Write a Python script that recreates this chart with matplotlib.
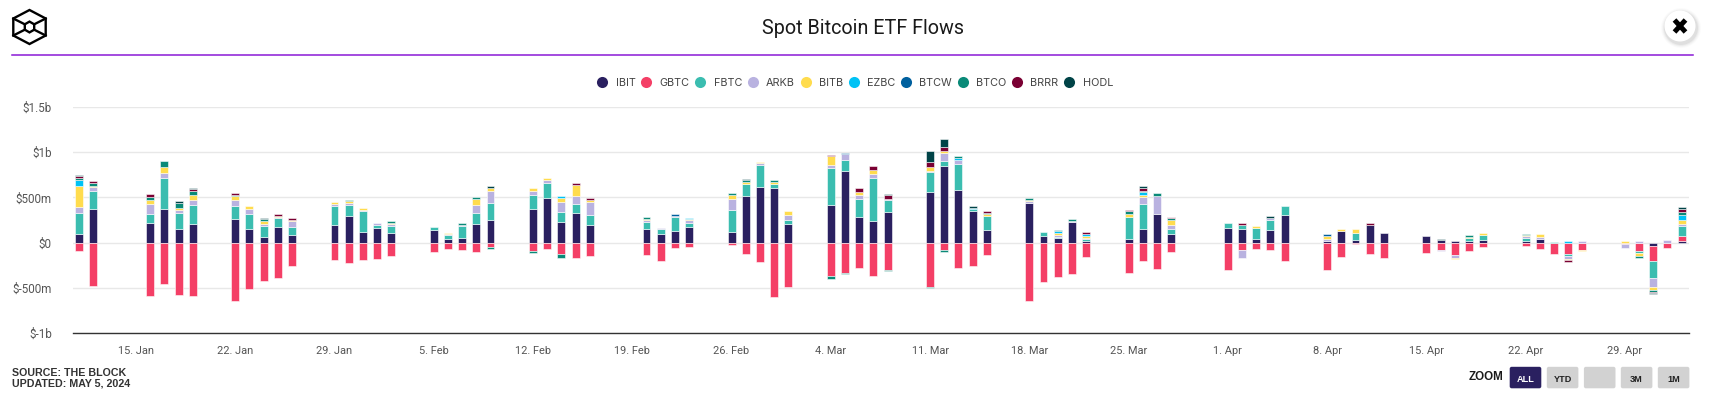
import matplotlib
matplotlib.use("Agg")
import matplotlib.pyplot as plt
import matplotlib.dates as mdates
import matplotlib.ticker as mticker
from matplotlib.lines import Line2D
from matplotlib.patches import FancyBboxPatch, Circle, Polygon
import numpy as np
import pandas as pd

plt.rcParams['font.family'] = ['Roboto', 'DejaVu Sans']

W, H = 1718, 401

closed_days = ['2024-01-15', '2024-02-19', '2024-03-29']
days = pd.bdate_range('2024-01-11', '2024-05-03').difference(pd.to_datetime(closed_days))

IBIT = [101, 376,  214, 366, 148, 203,  257, 156, 58, 170, 80,  195, 294, 118, 162, 107,
        140, 40, 52, 206, 250,  372, 493, 228, 328, 195,  150, 96, 129, 173,
        118, 515, 615, 603, 206,  416, 791, 283, 239, 339,  559, 846, 581, 350, 140,
        442, 69, 51, 224, 15,  36, 156, 319, 91,  162, 150, 40, 140, 305,
        22, 129, 29, 195, 107,  77, 29, 18, 15, 26,  15, 37, 0, 0, 0,  0, 0, -33, 0, 18]
GBTC = [-95, -475,  -585, -453, -574, -585,  -640, -508, -420, -386, -254,  -188, -221, -188, -177, -143,
        -99, -66, -77, -99, -44,  -88, -66, -121, -166, -143,  -132, -199, -55, -44,
        -22, -121, -210, -596, -486,  -364, -331, -276, -364, -298,  -486, -77, -276, -254, -132,
        -640, -434, -380, -347, -163,  -337, -206, -293, -98,  -298, -77, -66, -77, -199,
        -298, -155, -11, -121, -166,  -110, -77, -132, -88, -44,  -33, -66, -121, -130, -78,
        -15, -89, -166, -55, 55]
FBTC = [228, 195,  98, 348, 174, 217,  148, 156, 130, 98, 98,  210, 121, 232, 33, 77,
        37, 44, 132, 121, 188,  155, 166, 110, 99, 110,  77, 55, 155, 44,
        243, 129, 243, 44, 44,  404, 121, 199, 471, 133,  221, 55, 287, 18, 155,
        0, 51, 7, 0, 22,  250, 271, 0, 65,  59, 44, 121, 110, 103,
        0, 0, 81, 0, 0,  0, 0, 0, 33, 59,  33, 0, 11, -22, 0,  0, -30, -189, 0, 111]
ARKB = [69, 43,  119, 54, 33, 54,  65, 62, 22, 11, 58,  22, 22, 11, 22, 18,
        0, 11, 15, 88, 132,  44, 33, 110, 88, 143,  18, 15, 11, 29,
        121, 0, 22, 0, 55,  33, 63, 44, 44, 11,  11, 88, 48, 0, 0,
        14, 0, 25, 11, 11,  0, 80, 199, 36,  0, -88, 0, 18, 0,
        15, 0, 0, 0, 0,  0, -15, -33, 0, 0,  22, 29, 0, -30, 15,  -41, 15, -100, 26, 22]
BITB = [232, 11,  43, 65, 22, 51,  43, 29, 25, 18, 18,  25, 22, 26, 0, 15,
        0, 15, 0, 66, 29,  37, 18, 44, 121, 22,  15, 0, 0, 15,
        44, 22, 15, 22, 48,  99, 0, 33, 44, 0,  44, 22, 0, 0, 22,
        14, 0, 25, 0, 22,  29, 15, 0, 62,  0, 0, 26, 0, 0,
        33, 18, 37, 0, 0,  0, 0, -15, 18, 22,  11, 26, 0, -11, -11,  15, -33, -30, 0, 41]
EZBC = [58, 0,  0, 0, 0, 0,  0, 0, 0, 0, 0,  0, 0, 0, 0, 0,
        0, 0, 0, 0, 0,  0, 0, 22, 0, 0,  0, 0, 0, 14,
        0, 0, 0, 0, 0,  0, 0, 0, 0, 0,  0, 0, 18, 15, 0,
        0, 0, 22, 0, 22,  0, 36, 0, 0,  0, 0, 0, 0, 0,
        0, 0, 0, 0, 0,  0, 0, 0, 0, 0,  0, 0, 0, 15, 0,  0, 0, -7, 0, 63]
BTCW = [4, 0,  0, 0, 0, 0,  0, 0, 0, 0, 0,  0, 0, 0, 0, 0,
        0, 0, 0, 0, 0,  0, 0, 0, 0, 0,  0, 0, 18, 0,
        0, 0, 0, 0, 0,  0, 18, 0, 0, 0,  0, 0, 0, 0, 0,
        0, 0, 0, 0, 0,  0, 0, 0, 0,  0, 0, 0, 0, 0,
        22, 0, 0, 0, 0,  0, 0, 0, 0, 0,  0, 0, 0, 0, 0,  0, 0, 0, 0, 0]
BTCO = [18, 29,  33, 72, 65, 43,  15, 0, 25, 0, 0,  0, 12, 0, 0, 18,
        0, 0, 22, 26, -22,  -22, 0, -44, 0, 0,  18, 0, 0, 0,
        18, 22, 0, 22, 0,  -33, -15, 0, 0, -15,  -15, -22, 25, 0, 15,
        22, 0, 11, 22, 0,  29, 15, 25, 15,  0, 0, 0, 0, 0,
        0, 0, 0, 0, 0,  0, 0, 0, 22, 0,  18, 0, 0, 0, 0,  0, -18, -15, 0, 33]
BRRR = [22, 29,  25, 0, 0, 22,  15, 0, 0, 22, 22,  0, 0, 0, 0, 0,
        0, 0, 0, 0, 0,  0, 0, 0, 18, 18,  0, 0, 0, 0,
        0, 0, 0, 0, 0,  18, 0, 44, 51, 44,  55, 44, 0, 0, 15,
        0, 0, 0, 0, 22,  15, 33, 0, 10,  0, 18, 0, 0, 0,
        0, 0, 0, 26, 0,  0, 0, 0, 0, 0,  0, 0, 0, -18, 0,  0, 0, -11, 0, 33]
HODL = [10, 0,  0, 0, 15, 18,  0, 0, 11, 0, 0,  0, 0, 0, 0, 0,
        0, 0, 0, 0, 22,  0, 0, 0, 0, 0,  0, 0, 0, 0,
        0, 10, 0, 0, 0,  0, 0, 0, 0, 15,  125, 92, 0, 18, 0,
        0, 0, 0, 0, 0,  0, 15, 0, 8,  0, 0, 0, 25, 0,
        0, 0, 0, 0, 0,  0, 15, 0, 0, 0,  0, 0, 0, 0, 0,  0, 0, -15, 0, 15]

series_names = ['IBIT', 'GBTC', 'FBTC', 'ARKB', 'BITB', 'EZBC', 'BTCW', 'BTCO', 'BRRR', 'HODL']
series_values = [IBIT, GBTC, FBTC, ARKB, BITB, EZBC, BTCW, BTCO, BRRR, HODL]
series_colors = ['#2a2060', '#f43f66', '#3bbdb0', '#b9b2e0', '#ffdc4e',
                 '#00c2f5', '#00609e', '#0a8a78', '#7a0033', '#004347']

y_ticks = [-1000, -500, 0, 500, 1000, 1500]
y_labels = ['$-1b', '$-500m', '$0', '$500m', '$1b', '$1.5b']

fig = plt.figure(figsize=(W / 100, H / 100), dpi=100, facecolor='white')

left, right, top, bottom = 72.7, 1689, 106.7, 333.3
ax = fig.add_axes([left / W, 1 - bottom / H, (right - left) / W, (bottom - top) / H])

x = mdates.date2num(days)
pos_base = np.zeros(len(days))
neg_base = np.zeros(len(days))
for vals, color in zip(series_values, series_colors):
    v = np.array(vals, dtype=float)
    base = np.where(v >= 0, pos_base, neg_base)
    m = v != 0
    ax.bar(x[m], v[m], bottom=base[m], width=0.56, color=color,
           edgecolor=(1, 1, 1, 0.55), linewidth=0.7, zorder=3)
    pos_base += np.where(v > 0, v, 0)
    neg_base += np.where(v < 0, v, 0)

ax.set_ylim(-1000, 1500)
x0 = mdates.date2num(pd.Timestamp('2024-01-15'))
ax.set_xlim(x0 - (136 - left) / 14.18, x0 + (right - 136) / 14.18)
ax.set_yticks(y_ticks)
ax.set_yticklabels(y_labels)
ax.xaxis.set_major_locator(mdates.WeekdayLocator(byweekday=mdates.MO))
ax.xaxis.set_major_formatter(mticker.FuncFormatter(
    lambda d, p: f"{mdates.num2date(d).day}. {mdates.num2date(d).strftime('%b')}"))
ax.grid(axis='y', color='#e8e8e8', linewidth=1, zorder=0)
ax.set_axisbelow(True)
for s in ('top', 'right', 'left'):
    ax.spines[s].set_visible(False)
ax.spines['bottom'].set_color('#333333')
ax.spines['bottom'].set_linewidth(1)
ax.tick_params(axis='y', length=0, labelsize=8.4, labelcolor='#555555', pad=15)
ax.tick_params(axis='x', length=0, labelsize=7.9, labelcolor='#555555', pad=9)

handles = [Line2D([], [], linestyle='', marker='o', markersize=8, markeredgewidth=0, color=c, label=n)
           for n, c in zip(series_names, series_colors)]
fig.legend(handles=handles, ncol=10, loc='center', bbox_to_anchor=(855 / W, 1 - 82.7 / H),
           frameon=False, prop={'family': ['Inter', 'DejaVu Sans'], 'size': 7.8},
           labelcolor='#444444', handletextpad=0.74, columnspacing=0.5,
           handlelength=0.98, borderpad=0)

ov = fig.add_axes([0, 0, 1, 1], zorder=5)
ov.set_xlim(0, W)
ov.set_ylim(H, 0)
ov.axis('off')
ov.patch.set_alpha(0)

ov.text(863, 29, 'Spot Bitcoin ETF Flows', ha='center', va='center', fontsize=14.2, color='#1a1a1a')
ov.plot([12, 1693], [55.3, 55.3], color='#8a1ad6', lw=1.1)

sans = ['Liberation Sans', 'DejaVu Sans']
ov.text(12, 372.5, 'SOURCE: THE BLOCK', ha='left', va='center', fontsize=7.7, fontweight='bold',
        family=sans, color='#333333')
ov.text(12, 383.5, 'UPDATED: MAY 5, 2024', ha='left', va='center', fontsize=7.7, fontweight='bold',
        family=sans, color='#333333')

# logo
cx, cy, rx, ry = 29.5, 27, 16.2, 17
hex_out = [(cx, cy - ry), (cx + rx, cy - ry / 2), (cx + rx, cy + ry / 2),
           (cx, cy + ry), (cx - rx, cy + ry / 2), (cx - rx, cy - ry / 2)]
r2x, r2y = 4.7, 5.4
hex_in = [(cx, cy - r2y), (cx + r2x, cy - r2y / 2), (cx + r2x, cy + r2y / 2),
          (cx, cy + r2y), (cx - r2x, cy + r2y / 2), (cx - r2x, cy - r2y / 2)]
ov.add_patch(Polygon(hex_out, closed=True, fill=False, ec='black', lw=1.7))
ov.add_patch(Polygon(hex_in, closed=True, fill=False, ec='black', lw=1.7))
for i in (1, 2, 4, 5):
    ov.plot([hex_out[i][0], hex_in[i][0]], [hex_out[i][1], hex_in[i][1]], color='black', lw=1.7)

# close button
for r, al in zip([20, 19, 18, 17], [0.015, 0.025, 0.035, 0.05]):
    ov.add_patch(Circle((1681, 28), r, color='black', alpha=al, lw=0))
ov.add_patch(Circle((1680, 26), 15.5, color='white', lw=0))
ov.plot([1674.5, 1685.5], [20, 32], color='black', lw=3.6, solid_capstyle='butt')
ov.plot([1685.5, 1674.5], [20, 32], color='black', lw=3.6, solid_capstyle='butt')

# zoom buttons
ov.text(1503, 377, 'ZOOM', ha='right', va='center', fontsize=8.3, fontweight='bold',
        family=sans, color='#1a1a1a')
btn_x = [1509.7, 1546.8, 1583.9, 1620.8, 1657.8]
btn_labels = ['ALL', 'YTD', '', '3M', '1M']
for i, (bx, lab) in enumerate(zip(btn_x, btn_labels)):
    ov.add_patch(FancyBboxPatch((bx, 366.8), 31.6, 21.5, boxstyle='round,pad=0,rounding_size=2',
                                fc='#2a2060' if i == 0 else '#d2d2d2', ec='none'))
    ov.text(bx + 15.8, 379.3, lab, ha='center', va='center', fontsize=6.6, fontweight='bold',
            family=sans, color='white' if i == 0 else '#222222')

fig.savefig('out.png', dpi=100, facecolor='white')
